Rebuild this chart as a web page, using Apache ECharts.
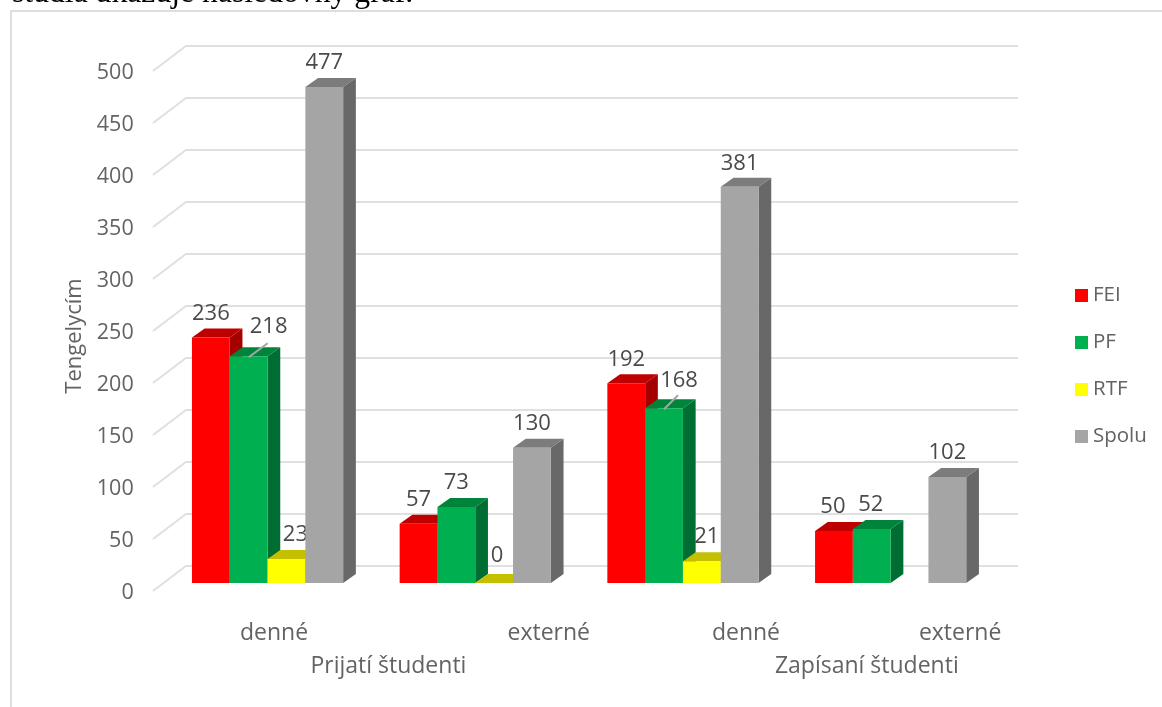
<!DOCTYPE html>
<html><head><meta charset="utf-8">
<style>html,body{margin:0;padding:0;background:#fff}#c{width:1162px;height:707px}</style>
<script src="https://cdn.jsdelivr.net/npm/echarts@6/dist/echarts.min.js"></script>
</head><body><div id="c"></div>
<script>
const categories = ['denné','externé','denné','externé'];
const groups = ['Prijatí študenti','Zapísaní študenti'];
const ticks = [0,50,100,150,200,250,300,350,400,450,500];
const FEI = [236,57,192,50];
const PF = [218,73,168,52];
const RTF = [23,0,21,null];
const Spolu = [477,130,381,102];

const FONT = '"Open Sans", sans-serif';
const GREY = '#636363';
const palette = {
  FEI:{front:'#ff0000',top:'#bf0000',side:'#a50000'},
  PF:{front:'#00b050',top:'#00843c',side:'#006e32'},
  RTF:{front:'#ffff00',top:'#c4c000',side:'#a8a800'},
  Spolu:{front:'#a5a5a5',top:'#7c7c7c',side:'#686868'}
};
const nudges = {'PF0':[20,-6],'PF2':[15,-4],'RTF0':[9,0],'RTF2':[5,0],'RTF1':[3,-3],'FEI3':[-1,0],'PF3':[-1,0],'Spolu2':[0,1]};
const leaders = {'PF0':1,'PF2':1};
const DX = 12.7, DY = -9, BASE = -10;

function barSeries(name,data,idx){
  const c = palette[name];
  return {
    type:'custom',name,coordinateSystem:'cartesian2d',
    itemStyle:{color:c.front},
    encode:{x:0,y:1},
    data:data.map((v,i)=>[i,v]),
    renderItem(params,api){
      const v = api.value(1);
      if (v === null || isNaN(v)) return {type:'group',children:[]};
      const cat = api.value(0);
      const t = api.coord([cat,v]), b = api.coord([cat,0]);
      const w = api.size([1,0])[0]*0.182;
      const x0 = t[0]+(idx-2)*w, x1 = x0+w, yt = t[1]+BASE, yb = b[1]+BASE;
      const key = name+cat, n = nudges[key]||[0,0];
      const kids = [
        {type:'polygon',shape:{points:[[x1,yt],[x1+DX,yt+DY],[x1+DX,yb+DY],[x1,yb]]},style:{fill:c.side}},
        {type:'polygon',shape:{points:[[x0,yt],[x0+DX,yt+DY],[x1+DX,yt+DY],[x1,yt]]},style:{fill:c.top}},
        {type:'rect',shape:{x:x0,y:yt,width:w,height:yb-yt},style:{fill:c.front}},
        {type:'text',x:x0+w/2+n[0],y:yt-24+n[1],style:{text:String(v),font:'22px '+FONT,fill:'#4a4a4a',align:'center',verticalAlign:'middle'}}
      ];
      if (leaders[key]) kids.push({type:'line',shape:{x1:x0+w/2,y1:yt+1,x2:x0+w/2+n[0]-1,y2:yt-13},style:{stroke:'#a6a6a6',lineWidth:2}});
      return {type:'group',children:kids};
    }
  };
}
const rs = (p)=>({padding:[0,0,0,p],fontFamily:FONT,fontSize:23,color:GREY});

const chart = echarts.init(document.getElementById('c'),null,{renderer:'canvas'});
chart.setOption({
  animation:false,
  backgroundColor:'#fff',
  grid:{left:163.7,right:167.5,top:73,bottom:114,containLabel:false},
  legend:{
    orient:'vertical',left:1075,top:285,padding:0,icon:'rect',itemWidth:13,itemHeight:13,itemGap:26,
    data:['FEI','PF','RTF','Spolu'],selectedMode:false,
    textStyle:{fontFamily:FONT,fontSize:20.5,color:GREY,padding:[0,0,0,0]}
  },
  xAxis:[
    {type:'category',data:categories,axisLine:{show:false},axisTick:{show:false},splitLine:{show:false},
     axisLabel:{show:true,interval:0,margin:29,color:GREY,fontFamily:FONT,fontSize:23,
       formatter:(v,i)=>'{s'+i+'|'+v+'}',
       rich:{s0:rs(13),s1:rs(147),s2:rs(126),s3:rs(139)}}},
    {type:'category',position:'bottom',data:groups,axisLine:{show:false},axisTick:{show:false},splitLine:{show:false},
     axisLabel:{show:true,interval:0,margin:62,color:GREY,fontFamily:FONT,fontSize:23,
       formatter:(v,i)=>'{g'+i+'|'+v+'}',
       rich:{g0:rs(34),g1:rs(160)}}}
  ],
  yAxis:{type:'value',min:0,max:500,interval:50,
    axisLine:{show:false},axisTick:{show:false},splitLine:{show:false},
    axisLabel:{margin:30,color:GREY,fontFamily:FONT,fontSize:21.5},
    name:'Tengelycím',nameLocation:'middle',nameGap:78,nameRotate:90,
    nameTextStyle:{fontFamily:FONT,fontSize:22,color:GREY,padding:[0,6,0,0]}},
  graphic:[
    {type:'polyline',silent:true,z:-1,shape:{points:[[11,707],[11,11],[1162,11]]},style:{stroke:'#dedede',lineWidth:2,fill:null}},
    {type:'text',silent:true,x:12,y:10,style:{text:'štúdia ukazuje nasledovný graf.',font:'31.7px "Liberation Serif", serif',fill:'#000',verticalAlign:'bottom'}}
  ],
  series:[
    {type:'custom',name:'grid',coordinateSystem:'cartesian2d',encode:{x:0,y:1},silent:true,
     data:ticks.map(t=>[0,t]),
     renderItem(params,api){
       const y = api.coord([0,api.value(1)])[1];
       const L = params.coordSys.x, R = L+params.coordSys.width;
       return {type:'polyline',shape:{points:[[L-10.7,y-2],[L+22.3,y-27],[R+23.5,y-27]]},
               style:{stroke:'#e0e0e0',lineWidth:2,fill:null}};
     }},
    barSeries('FEI',FEI,0),
    barSeries('PF',PF,1),
    barSeries('RTF',RTF,2),
    barSeries('Spolu',Spolu,3)
  ]
});
</script></body></html>
